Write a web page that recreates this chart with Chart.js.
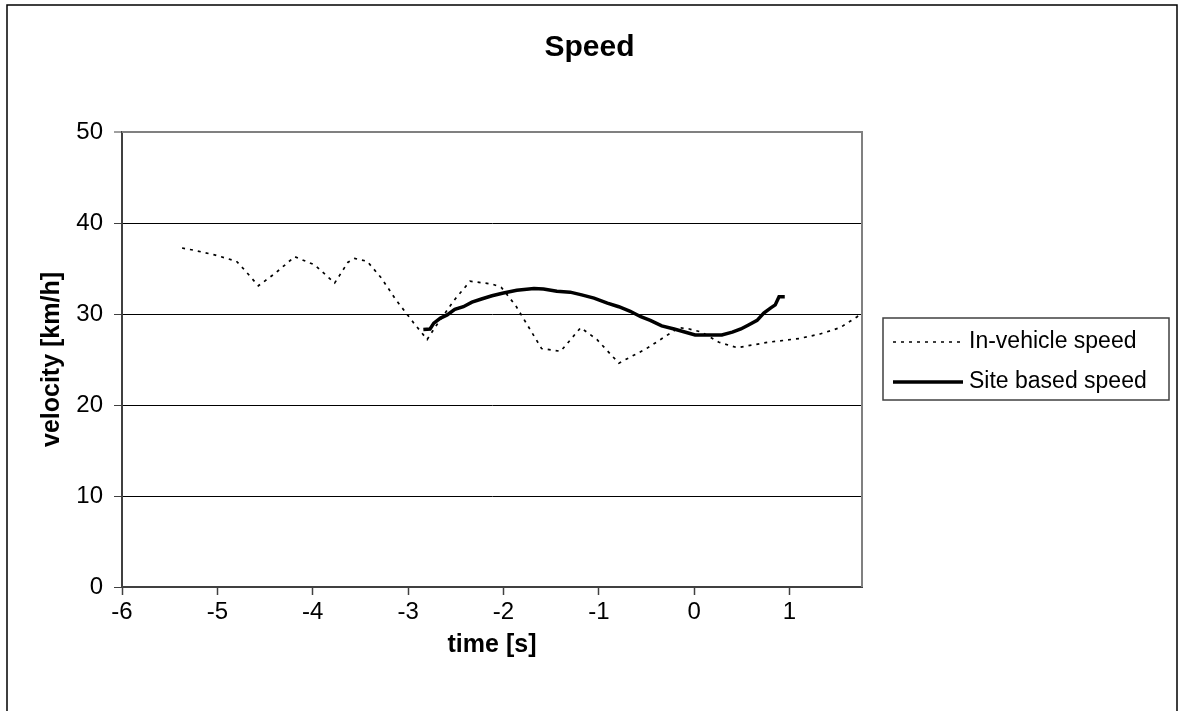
<!DOCTYPE html>
<html><head><meta charset="utf-8">
<script src="https://cdn.jsdelivr.net/npm/chart.js@4.4.1/dist/chart.umd.min.js"></script>
<style>html,body{margin:0;padding:0;background:#fff}#wrap{width:1179px;height:711px;position:relative}</style>
</head><body><div id="wrap"><canvas id="c" width="1179" height="711"></canvas></div>
<script>
const chartTitle = "Speed";
const xAxisTitle = "time [s]";
const yAxisTitle = "velocity [km/h]";
const seriesNames = ["In-vehicle speed", "Site based speed"];

const inVehicleTime  = [-5.37, -5.24, -5.03, -4.80, -4.72, -4.57, -4.39, -4.19, -3.98, -3.77, -3.63, -3.56, -3.43, -3.28, -3.13, -2.94, -2.80, -2.70, -2.51, -2.35, -2.12, -2.02, -1.87, -1.60, -1.40, -1.19, -1.02, -0.79, -0.50, -0.16, -0.05, 0.08, 0.26, 0.45, 0.78, 1.10, 1.32, 1.53, 1.71, 1.76];
const inVehicleSpeed = [37.25, 37.0, 36.5, 35.8, 34.9, 33.1, 34.5, 36.3, 35.4, 33.4, 35.7, 36.1, 35.8, 33.95, 31.6, 29.0, 27.2, 28.8, 31.6, 33.6, 33.3, 32.9, 30.9, 26.2, 25.9, 28.5, 27.2, 24.6, 26.2, 28.5, 28.35, 28.0, 26.9, 26.3, 26.9, 27.3, 27.8, 28.5, 29.7, 30.2];

const siteTime  = [-2.84, -2.77, -2.73, -2.66, -2.59, -2.51, -2.42, -2.33, -2.23, -2.12, -2.00, -1.86, -1.68, -1.58, -1.44, -1.30, -1.18, -1.05, -0.91, -0.79, -0.67, -0.56, -0.46, -0.34, -0.21, -0.09, 0.01, 0.17, 0.29, 0.40, 0.49, 0.57, 0.66, 0.73, 0.80, 0.85, 0.89, 0.95];
const siteSpeed = [28.3, 28.35, 29.0, 29.55, 29.9, 30.5, 30.8, 31.3, 31.65, 32.0, 32.3, 32.6, 32.8, 32.75, 32.5, 32.4, 32.1, 31.75, 31.2, 30.8, 30.3, 29.7, 29.3, 28.7, 28.35, 28.0, 27.7, 27.7, 27.7, 28.0, 28.35, 28.8, 29.3, 30.1, 30.65, 31.0, 31.9, 31.9];

const xTickValues = [-6, -5, -4, -3, -2, -1, 0, 1];
const yTickValues = [0, 10, 20, 30, 40, 50];
const xMin = -6, xMax = 1.76;

const FONT = "'Liberation Sans', Arial, sans-serif";

const toPoints = (xs, ys) => xs.map((x, i) => ({x: x, y: ys[i]}));

const framePlugin = {
  id: 'frame',
  beforeDraw(chart) {
    const ctx = chart.ctx;
    ctx.save();
    ctx.fillStyle = '#fff';
    ctx.fillRect(0, 0, chart.width, chart.height);
    ctx.restore();
  },
  afterDatasetsDraw(chart) {
    const {ctx, chartArea: a} = chart;
    ctx.save();
    ctx.strokeStyle = '#808080';
    ctx.lineWidth = 2;
    ctx.beginPath();
    ctx.moveTo(a.left, a.top);
    ctx.lineTo(a.right, a.top);
    ctx.lineTo(a.right, a.bottom);
    ctx.stroke();
    ctx.strokeStyle = '#000';
    ctx.lineWidth = 1.5;
    ctx.beginPath();
    ctx.moveTo(7, 720);
    ctx.lineTo(7, 5);
    ctx.lineTo(1177, 5);
    ctx.lineTo(1177, 720);
    ctx.stroke();
    const bx = 883, by = 318, bw = 286, bh = 82;
    ctx.strokeStyle = '#404040';
    ctx.lineWidth = 1.5;
    ctx.strokeRect(bx, by, bw, bh);
    const rows = [342, 382];
    chart.data.datasets.forEach((ds, i) => {
      if (!ds.label) return;
      const y = rows[i];
      ctx.strokeStyle = ds.borderColor;
      ctx.lineWidth = ds.borderWidth;
      ctx.setLineDash(ds.borderDash || []);
      ctx.beginPath();
      ctx.moveTo(893, y);
      ctx.lineTo(963, y);
      ctx.stroke();
      ctx.setLineDash([]);
      ctx.fillStyle = '#000';
      ctx.font = "23px " + FONT;
      ctx.textBaseline = 'alphabetic';
      ctx.textAlign = 'left';
      ctx.fillText(ds.label, 969, y + 6);
    });
    ctx.restore();
  }
};

new Chart(document.getElementById('c'), {
  type: 'scatter',
  data: {
    datasets: [
      {
        label: seriesNames[0],
        data: toPoints(inVehicleTime, inVehicleSpeed),
        showLine: true,
        borderColor: '#000',
        borderWidth: 1.7,
        borderDash: [3, 5],
        pointRadius: 0,
        tension: 0,
        fill: false
      },
      {
        label: seriesNames[1],
        data: toPoints(siteTime, siteSpeed),
        showLine: true,
        borderColor: '#000',
        borderWidth: 3.5,
        pointRadius: 0,
        tension: 0,
        fill: false
      }
    ]
  },
  options: {
    responsive: false,
    animation: false,
    devicePixelRatio: 1,
    layout: {padding: {left: 8, right: 8, top: 0, bottom: 0}},
    plugins: {
      legend: {display: false},
      tooltip: {enabled: false},
      title: {
        display: true,
        text: chartTitle,
        color: '#000',
        font: {family: FONT, size: 30, weight: 'bold', lineHeight: 1.2},
        padding: {top: 30, bottom: 66}
      }
    },
    scales: {
      x: {
        type: 'linear',
        min: xMin,
        max: xMax,
        afterFit(scale) { scale.height = 124; },
        afterBuildTicks(scale) { scale.ticks = xTickValues.map(v => ({value: v})); },
        ticks: {
          color: '#000',
          font: {family: FONT, size: 24},
          padding: 3,
          maxRotation: 0,
          includeBounds: false,
          callback: v => String(v)
        },
        grid: {
          drawOnChartArea: false,
          drawTicks: true,
          tickLength: 8,
          tickColor: '#404040',
          tickWidth: 1.5
        },
        border: {display: true, color: '#404040', width: 2},
        title: {
          display: true,
          text: xAxisTitle,
          color: '#000',
          font: {family: FONT, size: 25, weight: 'bold', lineHeight: 1.2},
          padding: {top: 0, bottom: 51}
        }
      },
      y: {
        type: 'linear',
        min: 0,
        max: 50,
        afterFit(scale) { scale.width = 114; },
        afterBuildTicks(scale) { scale.ticks = yTickValues.map(v => ({value: v})); },
        ticks: {
          color: '#000',
          font: {family: FONT, size: 24},
          padding: 11,
          callback: v => String(v)
        },
        grid: {
          drawOnChartArea: true,
          drawTicks: true,
          tickLength: 8,
          color: ctx => (ctx.tick && ctx.tick.value === 50) ? '#808080' : '#000',
          lineWidth: ctx => (ctx.tick && ctx.tick.value === 50) ? 2 : 1,
          tickColor: '#404040',
          tickWidth: 1
        },
        border: {display: true, color: '#404040', width: 2},
        title: {
          display: true,
          text: yAxisTitle,
          color: '#000',
          font: {family: FONT, size: 25, weight: 'bold', lineHeight: 1.2},
          padding: {top: 29, bottom: 0}
        }
      },
      legendSpace: {
        type: 'linear',
        position: 'right',
        display: true,
        afterFit(scale) { scale.width = 309; },
        ticks: {display: false},
        grid: {display: false, drawTicks: false},
        border: {display: false},
        title: {display: false}
      }
    }
  },
  plugins: [framePlugin]
});
</script>
</body></html>
